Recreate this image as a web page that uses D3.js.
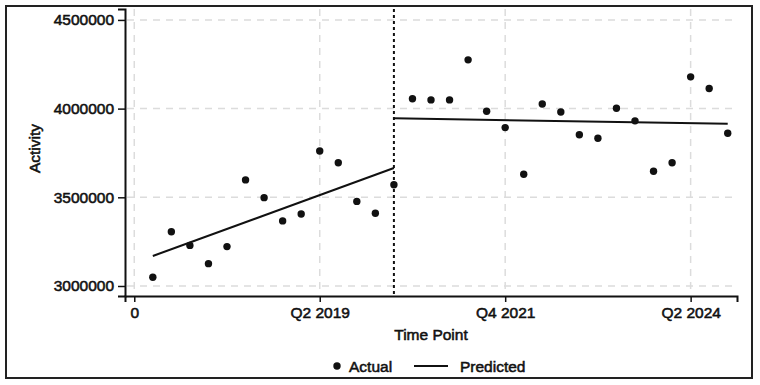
<!DOCTYPE html>
<html>
<head>
<meta charset="utf-8">
<script src="https://cdn.jsdelivr.net/npm/d3@7"></script>
<style>
  body { margin: 0; background: #fff; }
  text { font-family: "Liberation Sans", Arial, sans-serif; }
  .lbl { font-size: 15.5px; fill: #111; stroke: #111; stroke-width: 0.55px; }
</style>
</head>
<body>
<svg id="chart" width="760" height="385"></svg>
<script>
// quarterly time points 1..32
const timePoints = d3.range(1, 33)
const actual = [3049000, 3306000, 3229000, 3126000, 3222000, 3598000, 3498000, 3367000,
  3406000, 3761000, 3695000, 3477000, 3410000, 3571000, 4056000, 4049000,
  4049000, 4275000, 3985000, 3893000, 3630000, 4026000, 3981000, 3853000,
  3833000, 4002000, 3931000, 3647000, 3695000, 4179000, 4113000, 3861000]
// predicted segments (pre / post interruption)
const predictedPre = [{t: 1, v: 3169000}, {t: 14, v: 3665000}]
const predictedPost = [{t: 14, v: 3946000}, {t: 32, v: 3914000}]
const interruption = 14
const xTicks = [0, 10, 20, 30]
const xTickLabels = ['0', 'Q2 2019', 'Q4 2021', 'Q2 2024']
const yTicks = [3000000, 3500000, 4000000, 4500000]

const svg = d3.select('#chart')
const margin = {left: 125, right: 23, top: 9, bottom: 89}
const width = 760, height = 385

// outer frame
svg.append('rect')
  .attr('x', 6).attr('y', 6)
  .attr('width', 746).attr('height', 372)
  .attr('fill', 'none').attr('stroke', '#222').attr('stroke-width', 2)

const x = d3.scaleLinear().domain([-0.5, 32.5]).range([margin.left, width - margin.right])
const y = d3.scaleLinear().domain([2943600, 4561600]).range([height - margin.bottom, margin.top])

const g = svg.append('g')

// grid
g.selectAll('.hgrid').data(yTicks).join('line')
  .attr('x1', margin.left + 2).attr('x2', width - margin.right)
  .attr('y1', d => y(d)).attr('y2', d => y(d))
  .attr('stroke', '#dcdcdc').attr('stroke-width', 1.5).attr('stroke-dasharray', '7,6')
g.selectAll('.vgrid').data(xTicks).join('line')
  .attr('x1', d => x(d)).attr('x2', d => x(d))
  .attr('y1', margin.top).attr('y2', height - margin.bottom - 2)
  .attr('stroke', '#dcdcdc').attr('stroke-width', 1.5).attr('stroke-dasharray', '7,6')

// axes
const yAxis = d3.axisLeft(y).tickValues(yTicks).tickSize(7).tickPadding(4).tickFormat(d3.format('d'))
const xAxis = d3.axisBottom(x).tickValues(xTicks).tickSize(6).tickPadding(5)
  .tickFormat((d, i) => xTickLabels[i])

const ya = g.append('g').attr('transform', `translate(${margin.left},0)`).call(yAxis)
const xa = g.append('g').attr('transform', `translate(0,${height - margin.bottom})`).call(xAxis)
;[ya, xa].forEach(a => {
  a.attr('font-size', null).attr('font-family', null)
  a.select('.domain').attr('stroke', '#111').attr('stroke-width', 2)
  a.selectAll('.tick line').attr('stroke', '#111').attr('stroke-width', 1.5)
  a.selectAll('.tick text').attr('class', 'lbl').attr('fill', null)
})

// interruption line
g.append('line')
  .attr('x1', x(interruption)).attr('x2', x(interruption))
  .attr('y1', margin.top).attr('y2', height - margin.bottom)
  .attr('stroke', '#111').attr('stroke-width', 2).attr('stroke-dasharray', '3,3')

// predicted lines
const line = d3.line().x(d => x(d.t)).y(d => y(d.v))
;[predictedPre, predictedPost].forEach(seg => {
  g.append('path').datum(seg).attr('d', line)
    .attr('fill', 'none').attr('stroke', '#111').attr('stroke-width', 2)
})

// actual points
g.selectAll('circle.pt').data(actual).join('circle')
  .attr('class', 'pt')
  .attr('cx', (d, i) => x(timePoints[i]))
  .attr('cy', d => y(d))
  .attr('r', 3.7)
  .attr('fill', '#111')

// axis titles
svg.append('text').attr('class', 'lbl')
  .attr('x', (margin.left + width - margin.right) / 2).attr('y', 340)
  .attr('text-anchor', 'middle').text('Time Point')
svg.append('text').attr('class', 'lbl')
  .attr('transform', `translate(40,${(margin.top + height - margin.bottom) / 2 - 4}) rotate(-90)`)
  .attr('text-anchor', 'middle').text('Activity')

// legend
const lg = svg.append('g')
lg.append('circle').attr('cx', 337).attr('cy', 366).attr('r', 3.7).attr('fill', '#111')
lg.append('text').attr('class', 'lbl').attr('x', 349).attr('y', 371.5).text('Actual')
lg.append('line').attr('x1', 414).attr('x2', 448).attr('y1', 366).attr('y2', 366)
  .attr('stroke', '#111').attr('stroke-width', 2)
lg.append('text').attr('class', 'lbl').attr('x', 460).attr('y', 371.5).text('Predicted')
</script>
</body>
</html>
